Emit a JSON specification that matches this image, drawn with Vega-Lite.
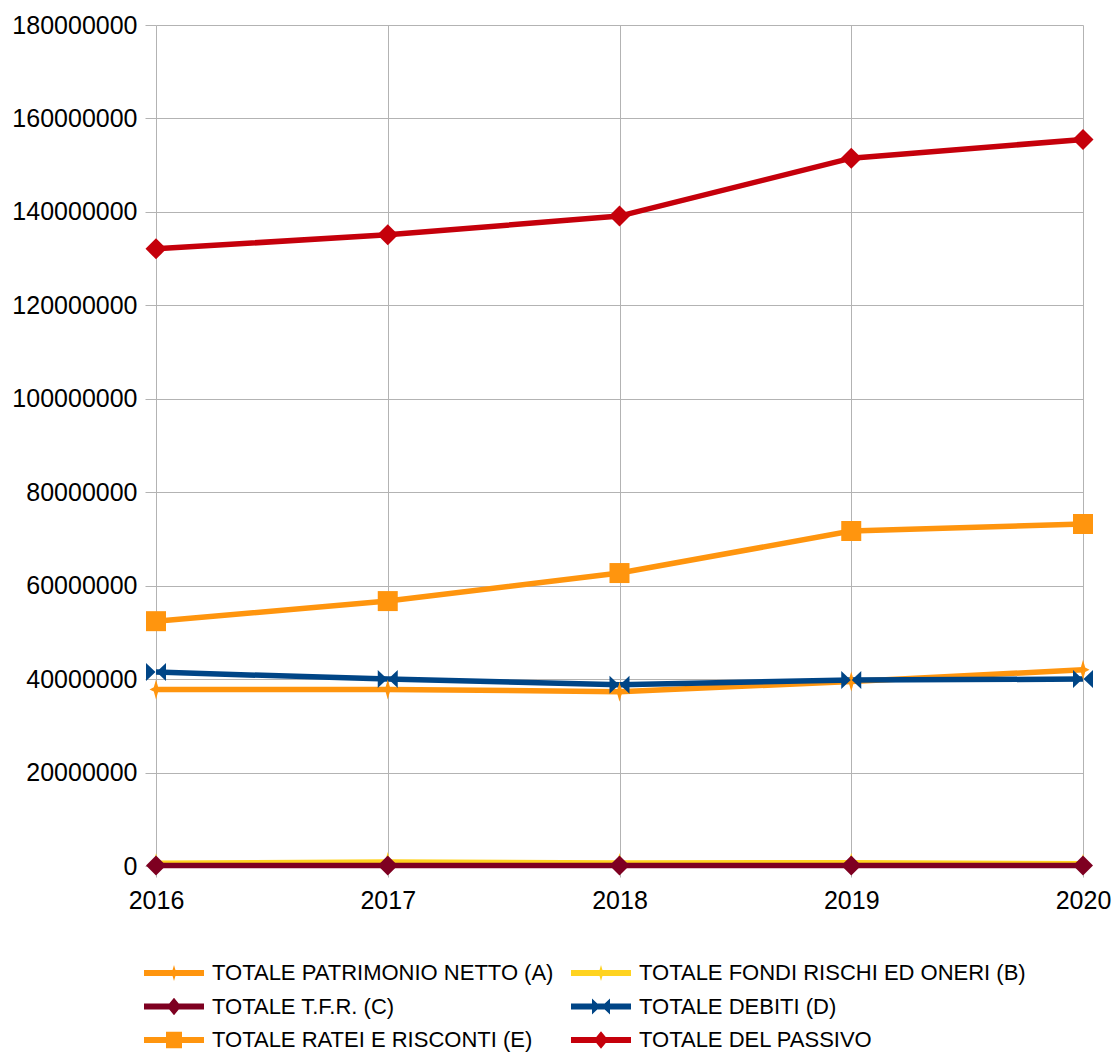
{
  "$schema": "https://vega.github.io/schema/vega-lite/v6.json",
  "width": 927,
  "height": 841,
  "autosize": "none",
  "padding": {"left": 156, "top": 25, "right": 29, "bottom": 186},
  "background": "white",
  "config": {
    "view": {"stroke": null},
    "font": "Liberation Sans",
    "axis": {
      "gridColor": "#b3b3b3",
      "gridWidth": 1,
      "tickColor": "#b3b3b3",
      "tickSize": 11,
      "domain": false,
      "labelFont": "Liberation Sans",
      "labelFontSize": 25,
      "labelColor": "#000000",
      "title": null
    }
  },
  "data": {
    "values": [
      {"year": 2016, "series": "TOTALE PATRIMONIO NETTO (A)", "value": 37800000},
      {"year": 2017, "series": "TOTALE PATRIMONIO NETTO (A)", "value": 37800000},
      {"year": 2018, "series": "TOTALE PATRIMONIO NETTO (A)", "value": 37300000},
      {"year": 2019, "series": "TOTALE PATRIMONIO NETTO (A)", "value": 39500000},
      {"year": 2020, "series": "TOTALE PATRIMONIO NETTO (A)", "value": 42000000},
      {"year": 2016, "series": "TOTALE FONDI RISCHI ED ONERI (B)", "value": 600000},
      {"year": 2017, "series": "TOTALE FONDI RISCHI ED ONERI (B)", "value": 850000},
      {"year": 2018, "series": "TOTALE FONDI RISCHI ED ONERI (B)", "value": 650000},
      {"year": 2019, "series": "TOTALE FONDI RISCHI ED ONERI (B)", "value": 700000},
      {"year": 2020, "series": "TOTALE FONDI RISCHI ED ONERI (B)", "value": 500000},
      {"year": 2016, "series": "TOTALE T.F.R. (C)", "value": 100000},
      {"year": 2017, "series": "TOTALE T.F.R. (C)", "value": 100000},
      {"year": 2018, "series": "TOTALE T.F.R. (C)", "value": 100000},
      {"year": 2019, "series": "TOTALE T.F.R. (C)", "value": 100000},
      {"year": 2020, "series": "TOTALE T.F.R. (C)", "value": 100000},
      {"year": 2016, "series": "TOTALE DEBITI (D)", "value": 41500000},
      {"year": 2017, "series": "TOTALE DEBITI (D)", "value": 40000000},
      {"year": 2018, "series": "TOTALE DEBITI (D)", "value": 38800000},
      {"year": 2019, "series": "TOTALE DEBITI (D)", "value": 39800000},
      {"year": 2020, "series": "TOTALE DEBITI (D)", "value": 40000000},
      {"year": 2016, "series": "TOTALE RATEI E RISCONTI (E)", "value": 52400000},
      {"year": 2017, "series": "TOTALE RATEI E RISCONTI (E)", "value": 56700000},
      {"year": 2018, "series": "TOTALE RATEI E RISCONTI (E)", "value": 62700000},
      {"year": 2019, "series": "TOTALE RATEI E RISCONTI (E)", "value": 71700000},
      {"year": 2020, "series": "TOTALE RATEI E RISCONTI (E)", "value": 73200000},
      {"year": 2016, "series": "TOTALE DEL PASSIVO", "value": 132100000},
      {"year": 2017, "series": "TOTALE DEL PASSIVO", "value": 135100000},
      {"year": 2018, "series": "TOTALE DEL PASSIVO", "value": 139100000},
      {"year": 2019, "series": "TOTALE DEL PASSIVO", "value": 151500000},
      {"year": 2020, "series": "TOTALE DEL PASSIVO", "value": 155500000}
    ]
  },
  "encoding": {
    "x": {
      "field": "year",
      "type": "quantitative",
      "scale": {"domain": [2016, 2020], "nice": false, "zero": false},
      "axis": {"values": [2016, 2017, 2018, 2019, 2020], "format": "d", "labelPadding": 11, "grid": true, "labelFlush": false}
    },
    "y": {
      "field": "value",
      "type": "quantitative",
      "scale": {"domain": [0, 180000000], "nice": false},
      "axis": {"values": [0, 20000000, 40000000, 60000000, 80000000, 100000000, 120000000, 140000000, 160000000, 180000000], "format": "d", "labelPadding": 8, "grid": true}
    },
    "color": {
      "field": "series",
      "type": "nominal",
      "sort": null,
      "scale": {
        "domain": ["TOTALE PATRIMONIO NETTO (A)", "TOTALE FONDI RISCHI ED ONERI (B)", "TOTALE T.F.R. (C)", "TOTALE DEBITI (D)", "TOTALE RATEI E RISCONTI (E)", "TOTALE DEL PASSIVO"],
        "range": ["#ff950e", "#ffd320", "#7e0021", "#004586", "#ff950e", "#c5000b"]
      },
      "legend": null
    }
  },
  "layer": [
    {
      "mark": {"type": "line", "strokeWidth": 5.5},
      "encoding": {
        "color": {
          "field": "series",
          "type": "nominal",
          "sort": null,
          "legend": {
            "title": null,
            "orient": "none",
            "legendX": -13,
            "legendY": 937,
            "direction": "horizontal",
            "columns": 2,
            "columnPadding": 16,
            "rowPadding": 11.5,
            "padding": 0,
            "labelFont": "Liberation Sans",
            "labelFontSize": 22,
            "labelColor": "#000000",
            "labelLimit": 600,
            "labelOffset": 47,
            "symbolSize": 400,
            "encode": {
              "symbols": {
                "update": {
                  "shape": {"signal": "datum.value === 'TOTALE PATRIMONIO NETTO (A)' || datum.value === 'TOTALE FONDI RISCHI ED ONERI (B)' ? 'M-1,-0.3H5V0.3H-1Z M2,-0.8L2.18,-0.18L2.36,0L2.18,0.18L2,0.8L1.82,0.18L1.64,0L1.82,-0.18Z' : datum.value === 'TOTALE DEBITI (D)' ? 'M-1,-0.3H5V0.3H-1Z M1.1,-0.8L1.94,0L1.1,0.8Z M2.9,0.8L2.06,0L2.9,-0.8Z' : datum.value === 'TOTALE RATEI E RISCONTI (E)' ? 'M-1,-0.3H5V0.3H-1Z M1.2,-0.82H2.8V0.82H1.2Z' : 'M-1,-0.3H5V0.3H-1Z M2,-0.87L2.72,0L2,0.87L1.28,0Z'"},
                  "fill": {"scale": "color", "field": "value"},
                  "stroke": {"value": "transparent"},
                  "strokeWidth": {"value": 0},
                  "size": {"value": 400},
                  "opacity": {"value": 1}
                }
              }
            }
          }
        }
      }
    },
    {
      "transform": [{"filter": "datum.series === 'TOTALE PATRIMONIO NETTO (A)' || datum.series === 'TOTALE FONDI RISCHI ED ONERI (B)'"}],
      "mark": {"type": "point", "filled": true, "size": 400, "opacity": 1, "shape": "M0,-1L0.22,-0.22L0.65,0L0.22,0.22L0,1L-0.22,0.22L-0.65,0L-0.22,-0.22Z"}
    },
    {
      "transform": [{"filter": "datum.series === 'TOTALE T.F.R. (C)'"}],
      "mark": {"type": "point", "filled": true, "size": 400, "opacity": 1, "shape": "M0,-1L1,0L0,1L-1,0Z"}
    },
    {
      "transform": [{"filter": "datum.series === 'TOTALE DEBITI (D)'"}],
      "mark": {"type": "point", "filled": true, "size": 400, "opacity": 1, "shape": "M-1,-0.9L-0.05,0L-1,0.9Z M1,0.9L0.05,0L1,-0.9Z"}
    },
    {
      "transform": [{"filter": "datum.series === 'TOTALE RATEI E RISCONTI (E)'"}],
      "mark": {"type": "point", "filled": true, "size": 400, "opacity": 1, "shape": "M-1,-1H1V1H-1Z"}
    },
    {
      "transform": [{"filter": "datum.series === 'TOTALE DEL PASSIVO'"}],
      "mark": {"type": "point", "filled": true, "size": 441, "opacity": 1, "shape": "M0,-1L1,0L0,1L-1,0Z"}
    }
  ]
}
